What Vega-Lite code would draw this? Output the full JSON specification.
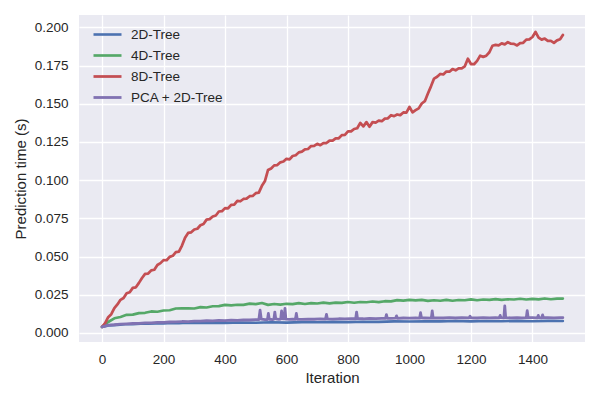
{
"$schema": "https://vega.github.io/schema/vega-lite/v6.json",
"width": 506, "height": 327,
"autosize": {"type": "none"},
"padding": {"left": 79, "top": 15, "right": 15, "bottom": 58},
"background": "white",
"config": {
  "font": "Liberation Sans",
  "view": {"fill": "#EAEAF2", "stroke": null},
  "axis": {"domain": false, "ticks": false, "gridColor": "white", "gridWidth": 1.3, "gridOpacity": 1,
    "labelFont": "Liberation Sans", "labelFontSize": 13.5, "labelColor": "#262626",
    "titleFont": "Liberation Sans", "titleFontSize": 15, "titleFontWeight": "normal", "titleColor": "#262626"}
},
"data": {"values": [
{"s":"2D-Tree","i":0,"v":0.0040},{"s":"2D-Tree","i":25,"v":0.0050},{"s":"2D-Tree","i":50,"v":0.0053},{"s":"2D-Tree","i":75,"v":0.0057},{"s":"2D-Tree","i":100,"v":0.0057},{"s":"2D-Tree","i":125,"v":0.0060},{"s":"2D-Tree","i":150,"v":0.0060},{"s":"2D-Tree","i":175,"v":0.0063},{"s":"2D-Tree","i":200,"v":0.0062},{"s":"2D-Tree","i":225,"v":0.0065},{"s":"2D-Tree","i":250,"v":0.0064},{"s":"2D-Tree","i":275,"v":0.0067},{"s":"2D-Tree","i":300,"v":0.0065},{"s":"2D-Tree","i":350,"v":0.0067},{"s":"2D-Tree","i":400,"v":0.0066},{"s":"2D-Tree","i":450,"v":0.0069},{"s":"2D-Tree","i":500,"v":0.0067},{"s":"2D-Tree","i":550,"v":0.0070},{"s":"2D-Tree","i":600,"v":0.0068},{"s":"2D-Tree","i":650,"v":0.0071},{"s":"2D-Tree","i":700,"v":0.0070},{"s":"2D-Tree","i":750,"v":0.0073},{"s":"2D-Tree","i":800,"v":0.0071},{"s":"2D-Tree","i":850,"v":0.0074},{"s":"2D-Tree","i":900,"v":0.0073},{"s":"2D-Tree","i":950,"v":0.0076},{"s":"2D-Tree","i":1000,"v":0.0075},{"s":"2D-Tree","i":1050,"v":0.0077},{"s":"2D-Tree","i":1100,"v":0.0076},{"s":"2D-Tree","i":1150,"v":0.0078},{"s":"2D-Tree","i":1200,"v":0.0076},{"s":"2D-Tree","i":1250,"v":0.0078},{"s":"2D-Tree","i":1300,"v":0.0077},{"s":"2D-Tree","i":1350,"v":0.0079},{"s":"2D-Tree","i":1400,"v":0.0077},{"s":"2D-Tree","i":1450,"v":0.0079},{"s":"2D-Tree","i":1499,"v":0.0078},
{"s":"4D-Tree","i":0,"v":0.0040},{"s":"4D-Tree","i":20,"v":0.0072},{"s":"4D-Tree","i":40,"v":0.0096},{"s":"4D-Tree","i":60,"v":0.0105},{"s":"4D-Tree","i":80,"v":0.0119},{"s":"4D-Tree","i":100,"v":0.0120},{"s":"4D-Tree","i":120,"v":0.0130},{"s":"4D-Tree","i":140,"v":0.0132},{"s":"4D-Tree","i":160,"v":0.0141},{"s":"4D-Tree","i":180,"v":0.0139},{"s":"4D-Tree","i":200,"v":0.0147},{"s":"4D-Tree","i":220,"v":0.0149},{"s":"4D-Tree","i":240,"v":0.0160},{"s":"4D-Tree","i":260,"v":0.0161},{"s":"4D-Tree","i":280,"v":0.0162},{"s":"4D-Tree","i":300,"v":0.0160},{"s":"4D-Tree","i":320,"v":0.0169},{"s":"4D-Tree","i":340,"v":0.0167},{"s":"4D-Tree","i":360,"v":0.0175},{"s":"4D-Tree","i":380,"v":0.0176},{"s":"4D-Tree","i":400,"v":0.0184},{"s":"4D-Tree","i":420,"v":0.0181},{"s":"4D-Tree","i":440,"v":0.0185},{"s":"4D-Tree","i":460,"v":0.0184},{"s":"4D-Tree","i":480,"v":0.0192},{"s":"4D-Tree","i":500,"v":0.0189},{"s":"4D-Tree","i":520,"v":0.0196},{"s":"4D-Tree","i":540,"v":0.0184},{"s":"4D-Tree","i":560,"v":0.0190},{"s":"4D-Tree","i":580,"v":0.0186},{"s":"4D-Tree","i":600,"v":0.0191},{"s":"4D-Tree","i":620,"v":0.0189},{"s":"4D-Tree","i":640,"v":0.0195},{"s":"4D-Tree","i":660,"v":0.0190},{"s":"4D-Tree","i":680,"v":0.0195},{"s":"4D-Tree","i":700,"v":0.0193},{"s":"4D-Tree","i":720,"v":0.0199},{"s":"4D-Tree","i":740,"v":0.0194},{"s":"4D-Tree","i":760,"v":0.0199},{"s":"4D-Tree","i":780,"v":0.0197},{"s":"4D-Tree","i":800,"v":0.0203},{"s":"4D-Tree","i":820,"v":0.0198},{"s":"4D-Tree","i":840,"v":0.0203},{"s":"4D-Tree","i":860,"v":0.0201},{"s":"4D-Tree","i":880,"v":0.0206},{"s":"4D-Tree","i":900,"v":0.0202},{"s":"4D-Tree","i":920,"v":0.0208},{"s":"4D-Tree","i":940,"v":0.0207},{"s":"4D-Tree","i":960,"v":0.0215},{"s":"4D-Tree","i":980,"v":0.0212},{"s":"4D-Tree","i":1000,"v":0.0217},{"s":"4D-Tree","i":1020,"v":0.0213},{"s":"4D-Tree","i":1040,"v":0.0217},{"s":"4D-Tree","i":1060,"v":0.0210},{"s":"4D-Tree","i":1080,"v":0.0214},{"s":"4D-Tree","i":1100,"v":0.0211},{"s":"4D-Tree","i":1120,"v":0.0217},{"s":"4D-Tree","i":1140,"v":0.0211},{"s":"4D-Tree","i":1160,"v":0.0216},{"s":"4D-Tree","i":1180,"v":0.0214},{"s":"4D-Tree","i":1200,"v":0.0220},{"s":"4D-Tree","i":1220,"v":0.0214},{"s":"4D-Tree","i":1240,"v":0.0219},{"s":"4D-Tree","i":1260,"v":0.0217},{"s":"4D-Tree","i":1280,"v":0.0222},{"s":"4D-Tree","i":1300,"v":0.0217},{"s":"4D-Tree","i":1320,"v":0.0221},{"s":"4D-Tree","i":1340,"v":0.0219},{"s":"4D-Tree","i":1360,"v":0.0224},{"s":"4D-Tree","i":1380,"v":0.0219},{"s":"4D-Tree","i":1400,"v":0.0223},{"s":"4D-Tree","i":1420,"v":0.0220},{"s":"4D-Tree","i":1440,"v":0.0226},{"s":"4D-Tree","i":1460,"v":0.0221},{"s":"4D-Tree","i":1480,"v":0.0225},{"s":"4D-Tree","i":1499,"v":0.0225},
{"s":"8D-Tree","i":0,"v":0.0040},{"s":"8D-Tree","i":10,"v":0.0064},{"s":"8D-Tree","i":20,"v":0.0103},{"s":"8D-Tree","i":30,"v":0.0123},{"s":"8D-Tree","i":40,"v":0.0163},{"s":"8D-Tree","i":50,"v":0.0187},{"s":"8D-Tree","i":60,"v":0.0217},{"s":"8D-Tree","i":70,"v":0.0229},{"s":"8D-Tree","i":80,"v":0.0260},{"s":"8D-Tree","i":90,"v":0.0267},{"s":"8D-Tree","i":100,"v":0.0295},{"s":"8D-Tree","i":110,"v":0.0299},{"s":"8D-Tree","i":120,"v":0.0328},{"s":"8D-Tree","i":130,"v":0.0360},{"s":"8D-Tree","i":140,"v":0.0387},{"s":"8D-Tree","i":150,"v":0.0389},{"s":"8D-Tree","i":160,"v":0.0410},{"s":"8D-Tree","i":170,"v":0.0414},{"s":"8D-Tree","i":180,"v":0.0445},{"s":"8D-Tree","i":190,"v":0.0457},{"s":"8D-Tree","i":200,"v":0.0477},{"s":"8D-Tree","i":210,"v":0.0476},{"s":"8D-Tree","i":220,"v":0.0498},{"s":"8D-Tree","i":230,"v":0.0505},{"s":"8D-Tree","i":240,"v":0.0529},{"s":"8D-Tree","i":250,"v":0.0532},{"s":"8D-Tree","i":260,"v":0.0572},{"s":"8D-Tree","i":270,"v":0.0624},{"s":"8D-Tree","i":280,"v":0.0655},{"s":"8D-Tree","i":290,"v":0.0659},{"s":"8D-Tree","i":300,"v":0.0677},{"s":"8D-Tree","i":310,"v":0.0682},{"s":"8D-Tree","i":320,"v":0.0705},{"s":"8D-Tree","i":330,"v":0.0713},{"s":"8D-Tree","i":340,"v":0.0742},{"s":"8D-Tree","i":350,"v":0.0745},{"s":"8D-Tree","i":360,"v":0.0762},{"s":"8D-Tree","i":370,"v":0.0769},{"s":"8D-Tree","i":380,"v":0.0795},{"s":"8D-Tree","i":390,"v":0.0797},{"s":"8D-Tree","i":400,"v":0.0817},{"s":"8D-Tree","i":410,"v":0.0816},{"s":"8D-Tree","i":420,"v":0.0838},{"s":"8D-Tree","i":430,"v":0.0840},{"s":"8D-Tree","i":440,"v":0.0865},{"s":"8D-Tree","i":450,"v":0.0862},{"s":"8D-Tree","i":460,"v":0.0877},{"s":"8D-Tree","i":470,"v":0.0879},{"s":"8D-Tree","i":480,"v":0.0895},{"s":"8D-Tree","i":490,"v":0.0897},{"s":"8D-Tree","i":500,"v":0.0915},{"s":"8D-Tree","i":510,"v":0.0919},{"s":"8D-Tree","i":520,"v":0.0963},{"s":"8D-Tree","i":530,"v":0.0995},{"s":"8D-Tree","i":540,"v":0.1067},{"s":"8D-Tree","i":550,"v":0.1077},{"s":"8D-Tree","i":560,"v":0.1097},{"s":"8D-Tree","i":570,"v":0.1099},{"s":"8D-Tree","i":580,"v":0.1117},{"s":"8D-Tree","i":590,"v":0.1122},{"s":"8D-Tree","i":600,"v":0.1140},{"s":"8D-Tree","i":610,"v":0.1136},{"s":"8D-Tree","i":620,"v":0.1158},{"s":"8D-Tree","i":630,"v":0.1163},{"s":"8D-Tree","i":640,"v":0.1182},{"s":"8D-Tree","i":650,"v":0.1187},{"s":"8D-Tree","i":660,"v":0.1202},{"s":"8D-Tree","i":670,"v":0.1204},{"s":"8D-Tree","i":680,"v":0.1223},{"s":"8D-Tree","i":690,"v":0.1225},{"s":"8D-Tree","i":700,"v":0.1238},{"s":"8D-Tree","i":710,"v":0.1229},{"s":"8D-Tree","i":720,"v":0.1243},{"s":"8D-Tree","i":730,"v":0.1243},{"s":"8D-Tree","i":740,"v":0.1259},{"s":"8D-Tree","i":750,"v":0.1259},{"s":"8D-Tree","i":760,"v":0.1274},{"s":"8D-Tree","i":770,"v":0.1274},{"s":"8D-Tree","i":780,"v":0.1295},{"s":"8D-Tree","i":790,"v":0.1297},{"s":"8D-Tree","i":800,"v":0.1320},{"s":"8D-Tree","i":810,"v":0.1319},{"s":"8D-Tree","i":820,"v":0.1335},{"s":"8D-Tree","i":830,"v":0.1340},{"s":"8D-Tree","i":840,"v":0.1375},{"s":"8D-Tree","i":850,"v":0.1352},{"s":"8D-Tree","i":860,"v":0.1380},{"s":"8D-Tree","i":870,"v":0.1350},{"s":"8D-Tree","i":880,"v":0.1380},{"s":"8D-Tree","i":890,"v":0.1377},{"s":"8D-Tree","i":900,"v":0.1390},{"s":"8D-Tree","i":910,"v":0.1386},{"s":"8D-Tree","i":920,"v":0.1403},{"s":"8D-Tree","i":930,"v":0.1405},{"s":"8D-Tree","i":940,"v":0.1425},{"s":"8D-Tree","i":950,"v":0.1419},{"s":"8D-Tree","i":960,"v":0.1430},{"s":"8D-Tree","i":970,"v":0.1426},{"s":"8D-Tree","i":980,"v":0.1443},{"s":"8D-Tree","i":990,"v":0.1442},{"s":"8D-Tree","i":1000,"v":0.1480},{"s":"8D-Tree","i":1010,"v":0.1444},{"s":"8D-Tree","i":1020,"v":0.1458},{"s":"8D-Tree","i":1030,"v":0.1470},{"s":"8D-Tree","i":1040,"v":0.1502},{"s":"8D-Tree","i":1050,"v":0.1517},{"s":"8D-Tree","i":1060,"v":0.1567},{"s":"8D-Tree","i":1070,"v":0.1614},{"s":"8D-Tree","i":1080,"v":0.1665},{"s":"8D-Tree","i":1090,"v":0.1677},{"s":"8D-Tree","i":1100,"v":0.1695},{"s":"8D-Tree","i":1110,"v":0.1692},{"s":"8D-Tree","i":1120,"v":0.1711},{"s":"8D-Tree","i":1130,"v":0.1710},{"s":"8D-Tree","i":1140,"v":0.1727},{"s":"8D-Tree","i":1150,"v":0.1719},{"s":"8D-Tree","i":1160,"v":0.1732},{"s":"8D-Tree","i":1170,"v":0.1732},{"s":"8D-Tree","i":1180,"v":0.1745},{"s":"8D-Tree","i":1190,"v":0.1795},{"s":"8D-Tree","i":1200,"v":0.1760},{"s":"8D-Tree","i":1210,"v":0.1759},{"s":"8D-Tree","i":1220,"v":0.1781},{"s":"8D-Tree","i":1230,"v":0.1815},{"s":"8D-Tree","i":1240,"v":0.1807},{"s":"8D-Tree","i":1250,"v":0.1815},{"s":"8D-Tree","i":1260,"v":0.1837},{"s":"8D-Tree","i":1270,"v":0.1880},{"s":"8D-Tree","i":1280,"v":0.1885},{"s":"8D-Tree","i":1290,"v":0.1882},{"s":"8D-Tree","i":1300,"v":0.1895},{"s":"8D-Tree","i":1310,"v":0.1889},{"s":"8D-Tree","i":1320,"v":0.1903},{"s":"8D-Tree","i":1330,"v":0.1893},{"s":"8D-Tree","i":1340,"v":0.1892},{"s":"8D-Tree","i":1350,"v":0.1882},{"s":"8D-Tree","i":1360,"v":0.1897},{"s":"8D-Tree","i":1370,"v":0.1899},{"s":"8D-Tree","i":1380,"v":0.1920},{"s":"8D-Tree","i":1390,"v":0.1922},{"s":"8D-Tree","i":1400,"v":0.1937},{"s":"8D-Tree","i":1410,"v":0.1970},{"s":"8D-Tree","i":1420,"v":0.1933},{"s":"8D-Tree","i":1430,"v":0.1920},{"s":"8D-Tree","i":1440,"v":0.1927},{"s":"8D-Tree","i":1450,"v":0.1912},{"s":"8D-Tree","i":1460,"v":0.1912},{"s":"8D-Tree","i":1470,"v":0.1899},{"s":"8D-Tree","i":1480,"v":0.1915},{"s":"8D-Tree","i":1490,"v":0.1922},{"s":"8D-Tree","i":1499,"v":0.1950},
{"s":"PCA + 2D-Tree","i":0,"v":0.0040},{"s":"PCA + 2D-Tree","i":20,"v":0.0051},{"s":"PCA + 2D-Tree","i":40,"v":0.0054},{"s":"PCA + 2D-Tree","i":60,"v":0.0058},{"s":"PCA + 2D-Tree","i":80,"v":0.0060},{"s":"PCA + 2D-Tree","i":100,"v":0.0062},{"s":"PCA + 2D-Tree","i":120,"v":0.0063},{"s":"PCA + 2D-Tree","i":140,"v":0.0066},{"s":"PCA + 2D-Tree","i":160,"v":0.0066},{"s":"PCA + 2D-Tree","i":180,"v":0.0069},{"s":"PCA + 2D-Tree","i":200,"v":0.0069},{"s":"PCA + 2D-Tree","i":220,"v":0.0072},{"s":"PCA + 2D-Tree","i":240,"v":0.0073},{"s":"PCA + 2D-Tree","i":260,"v":0.0075},{"s":"PCA + 2D-Tree","i":280,"v":0.0074},{"s":"PCA + 2D-Tree","i":300,"v":0.0077},{"s":"PCA + 2D-Tree","i":320,"v":0.0077},{"s":"PCA + 2D-Tree","i":340,"v":0.0080},{"s":"PCA + 2D-Tree","i":360,"v":0.0079},{"s":"PCA + 2D-Tree","i":380,"v":0.0082},{"s":"PCA + 2D-Tree","i":400,"v":0.0081},{"s":"PCA + 2D-Tree","i":420,"v":0.0084},{"s":"PCA + 2D-Tree","i":440,"v":0.0083},{"s":"PCA + 2D-Tree","i":460,"v":0.0086},{"s":"PCA + 2D-Tree","i":480,"v":0.0085},{"s":"PCA + 2D-Tree","i":500,"v":0.0088},{"s":"PCA + 2D-Tree","i":510,"v":0.0087},{"s":"PCA + 2D-Tree","i":514,"v":0.0150},{"s":"PCA + 2D-Tree","i":518,"v":0.0090},{"s":"PCA + 2D-Tree","i":530,"v":0.0087},{"s":"PCA + 2D-Tree","i":538,"v":0.0088},{"s":"PCA + 2D-Tree","i":541,"v":0.0128},{"s":"PCA + 2D-Tree","i":544,"v":0.0090},{"s":"PCA + 2D-Tree","i":555,"v":0.0088},{"s":"PCA + 2D-Tree","i":559,"v":0.0090},{"s":"PCA + 2D-Tree","i":562,"v":0.0137},{"s":"PCA + 2D-Tree","i":565,"v":0.0092},{"s":"PCA + 2D-Tree","i":575,"v":0.0089},{"s":"PCA + 2D-Tree","i":581,"v":0.0091},{"s":"PCA + 2D-Tree","i":584,"v":0.0144},{"s":"PCA + 2D-Tree","i":588,"v":0.0093},{"s":"PCA + 2D-Tree","i":592,"v":0.0092},{"s":"PCA + 2D-Tree","i":595,"v":0.0161},{"s":"PCA + 2D-Tree","i":598,"v":0.0091},{"s":"PCA + 2D-Tree","i":610,"v":0.0089},{"s":"PCA + 2D-Tree","i":620,"v":0.0091},{"s":"PCA + 2D-Tree","i":629,"v":0.0089},{"s":"PCA + 2D-Tree","i":632,"v":0.0128},{"s":"PCA + 2D-Tree","i":635,"v":0.0090},{"s":"PCA + 2D-Tree","i":650,"v":0.0089},{"s":"PCA + 2D-Tree","i":670,"v":0.0091},{"s":"PCA + 2D-Tree","i":690,"v":0.0090},{"s":"PCA + 2D-Tree","i":710,"v":0.0092},{"s":"PCA + 2D-Tree","i":727,"v":0.0091},{"s":"PCA + 2D-Tree","i":730,"v":0.0122},{"s":"PCA + 2D-Tree","i":733,"v":0.0092},{"s":"PCA + 2D-Tree","i":750,"v":0.0091},{"s":"PCA + 2D-Tree","i":770,"v":0.0093},{"s":"PCA + 2D-Tree","i":790,"v":0.0092},{"s":"PCA + 2D-Tree","i":810,"v":0.0094},{"s":"PCA + 2D-Tree","i":825,"v":0.0093},{"s":"PCA + 2D-Tree","i":828,"v":0.0137},{"s":"PCA + 2D-Tree","i":831,"v":0.0094},{"s":"PCA + 2D-Tree","i":850,"v":0.0093},{"s":"PCA + 2D-Tree","i":870,"v":0.0095},{"s":"PCA + 2D-Tree","i":890,"v":0.0094},{"s":"PCA + 2D-Tree","i":910,"v":0.0096},{"s":"PCA + 2D-Tree","i":922,"v":0.0095},{"s":"PCA + 2D-Tree","i":925,"v":0.0120},{"s":"PCA + 2D-Tree","i":928,"v":0.0096},{"s":"PCA + 2D-Tree","i":940,"v":0.0095},{"s":"PCA + 2D-Tree","i":955,"v":0.0097},{"s":"PCA + 2D-Tree","i":958,"v":0.0112},{"s":"PCA + 2D-Tree","i":961,"v":0.0096},{"s":"PCA + 2D-Tree","i":980,"v":0.0098},{"s":"PCA + 2D-Tree","i":1000,"v":0.0097},{"s":"PCA + 2D-Tree","i":1020,"v":0.0098},{"s":"PCA + 2D-Tree","i":1033,"v":0.0097},{"s":"PCA + 2D-Tree","i":1036,"v":0.0133},{"s":"PCA + 2D-Tree","i":1039,"v":0.0099},{"s":"PCA + 2D-Tree","i":1050,"v":0.0098},{"s":"PCA + 2D-Tree","i":1071,"v":0.0097},{"s":"PCA + 2D-Tree","i":1074,"v":0.0144},{"s":"PCA + 2D-Tree","i":1077,"v":0.0098},{"s":"PCA + 2D-Tree","i":1090,"v":0.0099},{"s":"PCA + 2D-Tree","i":1110,"v":0.0098},{"s":"PCA + 2D-Tree","i":1130,"v":0.0100},{"s":"PCA + 2D-Tree","i":1150,"v":0.0098},{"s":"PCA + 2D-Tree","i":1170,"v":0.0100},{"s":"PCA + 2D-Tree","i":1194,"v":0.0099},{"s":"PCA + 2D-Tree","i":1197,"v":0.0110},{"s":"PCA + 2D-Tree","i":1200,"v":0.0099},{"s":"PCA + 2D-Tree","i":1220,"v":0.0098},{"s":"PCA + 2D-Tree","i":1240,"v":0.0100},{"s":"PCA + 2D-Tree","i":1260,"v":0.0099},{"s":"PCA + 2D-Tree","i":1280,"v":0.0100},{"s":"PCA + 2D-Tree","i":1292,"v":0.0099},{"s":"PCA + 2D-Tree","i":1295,"v":0.0115},{"s":"PCA + 2D-Tree","i":1298,"v":0.0100},{"s":"PCA + 2D-Tree","i":1307,"v":0.0099},{"s":"PCA + 2D-Tree","i":1310,"v":0.0177},{"s":"PCA + 2D-Tree","i":1313,"v":0.0100},{"s":"PCA + 2D-Tree","i":1330,"v":0.0099},{"s":"PCA + 2D-Tree","i":1350,"v":0.0101},{"s":"PCA + 2D-Tree","i":1365,"v":0.0099},{"s":"PCA + 2D-Tree","i":1380,"v":0.0100},{"s":"PCA + 2D-Tree","i":1383,"v":0.0146},{"s":"PCA + 2D-Tree","i":1386,"v":0.0101},{"s":"PCA + 2D-Tree","i":1400,"v":0.0100},{"s":"PCA + 2D-Tree","i":1416,"v":0.0099},{"s":"PCA + 2D-Tree","i":1419,"v":0.0115},{"s":"PCA + 2D-Tree","i":1422,"v":0.0100},{"s":"PCA + 2D-Tree","i":1430,"v":0.0099},{"s":"PCA + 2D-Tree","i":1433,"v":0.0118},{"s":"PCA + 2D-Tree","i":1436,"v":0.0100},{"s":"PCA + 2D-Tree","i":1450,"v":0.0101},{"s":"PCA + 2D-Tree","i":1470,"v":0.0099},{"s":"PCA + 2D-Tree","i":1490,"v":0.0101},{"s":"PCA + 2D-Tree","i":1499,"v":0.0100}
]},
"mark": {"type": "line", "interpolate": "linear", "strokeJoin": "round", "strokeCap": "round"},
"encoding": {
  "x": {"field": "i", "type": "quantitative",
    "scale": {"domain": [-75, 1571], "nice": false, "zero": false},
    "axis": {"values": [0,200,400,600,800,1000,1200,1400], "format": "d", "title": "Iteration", "labelPadding": 10,
      "titleX": 253, "titleY": 35, "titleBaseline": "middle", "titleAlign": "center", "titleAnchor": null}},
  "y": {"field": "v", "type": "quantitative",
    "scale": {"domain": [-0.0059, 0.2081], "nice": false, "zero": false},
    "axis": {"values": [0,0.025,0.05,0.075,0.1,0.125,0.15,0.175,0.2], "format": ".3f", "title": "Prediction time (s)",
      "labelPadding": 11, "titleX": -59, "titleY": 163.5, "titleAngle": -90, "titleBaseline": "middle", "titleAlign": "center", "titleAnchor": null}},
  "strokeWidth": {"field": "s", "type": "nominal",
    "scale": {"domain": ["2D-Tree","4D-Tree","8D-Tree","PCA + 2D-Tree"], "range": [2.6, 2.8, 3.6, 2.4]}, "legend": null},
  "color": {"field": "s", "type": "nominal",
    "scale": {"domain": ["2D-Tree","4D-Tree","8D-Tree","PCA + 2D-Tree"], "range": ["#4C72B0","#55A868","#C44E52","#8172B2"]},
    "legend": {"title": null, "orient": "none", "legendX": 20, "legendY": 11, "symbolType": "M-2,0H2", "symbolSize": 196,
      "symbolStrokeWidth": 2.2, "symbolFillColor": "transparent", "labelFont": "Liberation Sans", "labelFontSize": 13.5, "labelColor": "#262626",
      "labelOffset": 15, "rowPadding": 6, "padding": 0, "labelLimit": 250}}
}
}
